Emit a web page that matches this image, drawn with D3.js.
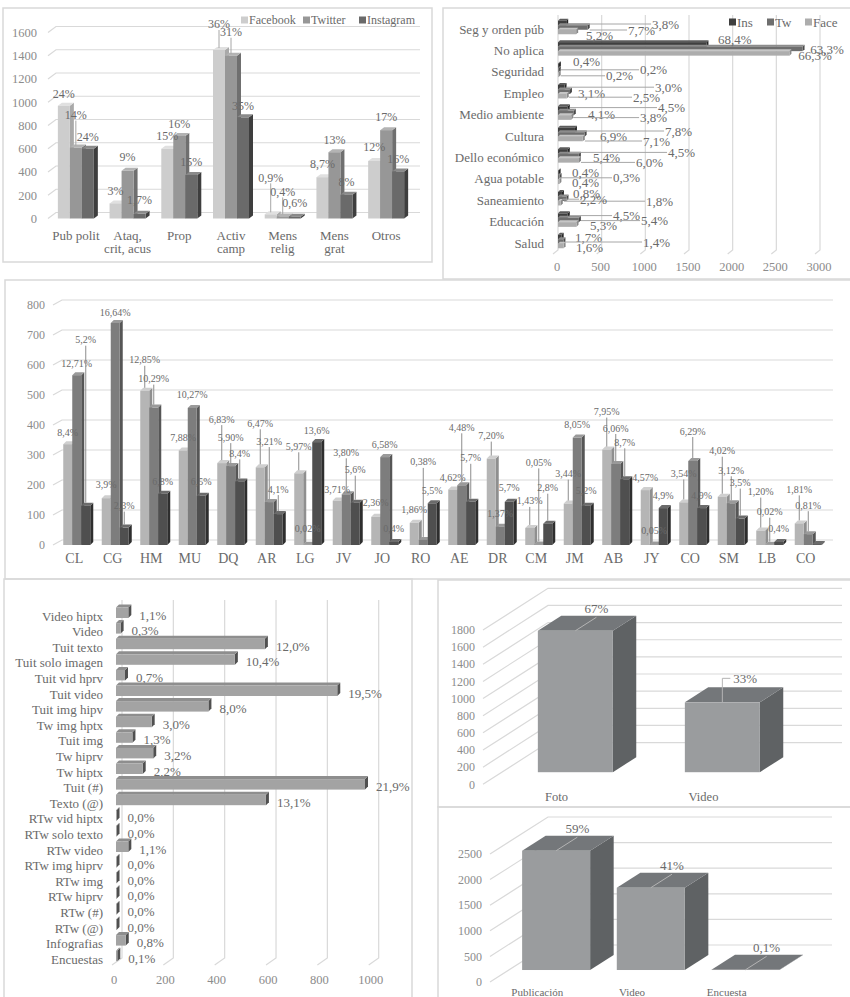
<!DOCTYPE html>
<html><head><meta charset="utf-8">
<script src="https://cdn.jsdelivr.net/npm/d3@7"></script>
<style>
html,body{margin:0;padding:0;background:#fff;}
svg{display:block;}
</style></head><body>
<svg id="chart" width="850" height="997"></svg>
<script>
// ================= DATA =================
// Panel 1 (top-left): content type by network
const p1Categories = ["Pub polit", "Ataq,\ncrit, acus", "Prop", "Activ\ncamp", "Mens\nrelig", "Mens\ngrat", "Otros"];
const p1Series = ["Facebook", "Twitter", "Instagram"];
const p1Facebook = [970, 130, 600, 1450, 36, 355, 495];
const p1Twitter = [610, 410, 710, 1400, 18, 570, 760];
const p1Instagram = [600, 40, 375, 870, 15, 205, 405];
const p1PctFacebook = ["24%", "3%", "15%", "36%", "0,9%", "8,7%", "12%"];
const p1PctTwitter = ["14%", "9%", "16%", "31%", "0,4%", "13%", "17%"];
const p1PctInstagram = ["24%", "1,7%", "15%", "35%", "0,6%", "8%", "16%"];
const p1Ticks = [0, 200, 400, 600, 800, 1000, 1200, 1400, 1600];

// Panel 2 (top-right): topics
const p2Categories = ["Seg y orden púb", "No aplica", "Seguridad", "Empleo", "Medio ambiente", "Cultura", "Dello económico", "Agua potable", "Saneamiento", "Educación", "Salud"];
const p2Series = ["Ins", "Tw", "Face"];
const p2Ins = [94, 1700, 10, 75, 112, 194, 112, 7, 45, 112, 42];
const p2Tw = [340, 2800, 9, 137, 181, 305, 239, 18, 97, 239, 62];
const p2Face = [208, 2650, 8, 100, 152, 284, 240, 16, 32, 212, 64];
const p2PctIns = ["3,8%", "68,4%", "0,4%", "3,0%", "4,5%", "7,8%", "4,5%", "0,3%", "1,8%", "4,5%", "1,7%"];
const p2PctTw = ["7,7%", "63,3%", "0,2%", "3,1%", "4,1%", "6,9%", "5,4%", "0,4%", "0,8%", "5,4%", "1,4%"];
const p2PctFace = ["5,2%", "66,3%", "0,2%", "2,5%", "3,8%", "7,1%", "6,0%", "0,4%", "2,2%", "5,3%", "1,6%"];
const p2Ticks = [0, 500, 1000, 1500, 2000, 2500, 3000];

// Panel 3 (middle): candidates
const mCategories = ["CL", "CG", "HM", "MU", "DQ", "AR", "LG", "JV", "JO", "RO", "AE", "DR", "CM", "JM", "AB", "JY", "CO", "SM", "LB", "CO"];
const mFacebook = [336, 156, 514, 315, 273, 259, 239, 148, 94, 74, 185, 288, 57, 138, 318, 183, 142, 161, 48, 72];
const mTwitter = [566, 740, 458, 457, 263, 143, 1, 169, 293, 17, 199, 61, 2, 358, 270, 2, 280, 139, 1, 36];
const mInstagram = [131, 58, 171, 164, 212, 103, 343, 141, 10, 139, 144, 144, 71, 131, 219, 123, 123, 88, 10, 3];
const mPctFacebook = ["8,4%", "3,9%", "12,85%", "7,88%", "6,83%", "6,47%", "5,97%", "3,71%", "2,36%", "1,86%", "4,62%", "7,20%", "1,43%", "3,44%", "7,95%", "4,57%", "3,54%", "4,02%", "1,20%", "1,81%"];
const mPctTwitter = ["12,71%", "16,64%", "10,29%", "10,27%", "5,90%", "3,21%", "0,02%", "3,80%", "6,58%", "0,38%", "4,48%", "1,37%", "0,05%", "8,05%", "6,06%", "0,05%", "6,29%", "3,12%", "0,02%", "0,81%"];
const mPctInstagram = ["5,2%", "2,3%", "6,8%", "6,5%", "8,4%", "4,1%", "13,6%", "5,6%", "0,4%", "5,5%", "5,7%", "5,7%", "2,8%", "5,2%", "8,7%", "4,9%", "4,9%", "3,5%", "0,4%", ""];
const mTicks = [0, 100, 200, 300, 400, 500, 600, 700, 800];

// Panel 4 (bottom-left): tweet formats
const blCategories = ["Video hiptx", "Video", "Tuit texto", "Tuit solo imagen", "Tuit vid hprv", "Tuit video", "Tuit img hipv", "Tw img hptx", "Tuit img", "Tw hiprv", "Tw hiptx", "Tuit (#)", "Texto (@)", "RTw vid hiptx", "RTw solo texto", "RTw video", "RTw img hiprv", "RTw img", "RTw hiprv", "RTw (#)", "RTw (@)", "Infografias", "Encuestas"];
const blValues = [48, 18, 580, 463, 35, 862, 360, 139, 64, 145, 104, 970, 584, 2, 2, 48, 2, 2, 2, 2, 2, 38, 5];
const blPct = ["1,1%", "0,3%", "12,0%", "10,4%", "0,7%", "19,5%", "8,0%", "3,0%", "1,3%", "3,2%", "2,2%", "21,9%", "13,1%", "0,0%", "0,0%", "1,1%", "0,0%", "0,0%", "0,0%", "0,0%", "0,0%", "0,8%", "0,1%"];
const blTicks = [0, 200, 400, 600, 800, 1000];

// Panel 5 (bottom-right, upper): Instagram formats
const aCategories = ["Foto", "Video"];
const aValues = [1650, 815];
const aPct = ["67%", "33%"];
const aTicks = [0, 200, 400, 600, 800, 1000, 1200, 1400, 1600, 1800];

// Panel 6 (bottom-right, lower): Facebook formats
const bCategories = ["Publicación", "Video", "Encuesta"];
const bValues = [2330, 1607, 4];
const bPct = ["59%", "41%", "0,1%"];
const bTicks = [0, 500, 1000, 1500, 2000, 2500];

// ============ LABEL PLACEMENT (layout only) ============
const p1LiftFacebook = [12, 13, 13, 26, 37, 13, 14];
const p1LiftTwitter = [33, 14, 12, 24, 25, 12, 13];
const p1LiftInstagram = [12, 14, 13, 12, 14, 13, 13];

const p2LabelAtIns = [1077, 1833, 172, 1111, 1145, 1226, 1260, 630, 1008, 630, 195];
const p2LabelDyIns = [-5, -11, -10, -6, -7, -5, -5, -1, 1, -6, -6];
const p2LabelAtTw = [802, 2887, 940, 229, 344, 481, 401, 160, 172, 951, 974];
const p2LabelDyTw = [1, -1, -2, 0, 0, 0, 0, -6, -7, -1, -1];
const p2LabelAtFace = [320, 2750, 550, 859, 940, 974, 893, 160, 252, 367, 206];
const p2LabelDyFace = [6, 5, 4, 4, 3, 5, 5, 4, -1, 4, 4];

const mLiftFacebook = [12, 14, 31, 13, 44, 44, 27, 11, 14, 13, 12, 23, 27, 30, 38, 13, 29, 46, 39, 34];
const mLiftTwitter = [12, 11, 29, 13, 29, 61, 16, 42, 13, 78, 58, 13, 82, 13, 36, 14, 30, 33, 33, 29];
const mLiftInstagram = [166, 22, 12, 14, 28, 25, 12, 33, 14, 13, 44, 14, 36, 15, 37, 13, 13, 36, 14, 0];

// ================= DRAWING =================
const svg = d3.select('#chart');
const FONT = '"Liberation Serif","Times New Roman",serif';
const TXT = '#6a6a6a';
const TICK = '#8c8c8c';
const GRID = '#d9d9d9';
const LEAD = '#a6a6a6';

function txt(g, x, y, s, size, anchor, fill) {
  return g.append('text').attr('x', x).attr('y', y).attr('dy', '0.35em')
    .attr('text-anchor', anchor || 'middle').attr('font-size', size)
    .attr('fill', fill || TXT).attr('font-family', FONT).text(s);
}
function vbar(g, x, w, yTop, yBase, dx, dy, c) {
  g.append('path').attr('d', `M${x+w},${yTop}L${x+w+dx},${yTop-dy}L${x+w+dx},${yBase-dy}L${x+w},${yBase}Z`).attr('fill', c.side);
  g.append('path').attr('d', `M${x},${yTop}L${x+dx},${yTop-dy}L${x+w+dx},${yTop-dy}L${x+w},${yTop}Z`).attr('fill', c.top);
  g.append('rect').attr('x', x).attr('y', yTop).attr('width', w).attr('height', Math.max(0, yBase - yTop)).attr('fill', c.front);
}
function hbar(g, x0, x1, y, h, dx, dy, c) {
  g.append('path').attr('d', `M${x1},${y}L${x1+dx},${y-dy}L${x1+dx},${y+h-dy}L${x1},${y+h}Z`).attr('fill', c.side);
  g.append('path').attr('d', `M${x0},${y}L${x0+dx},${y-dy}L${x1+dx},${y-dy}L${x1},${y}Z`).attr('fill', c.top);
  g.append('rect').attr('x', x0).attr('y', y).attr('width', Math.max(0, x1 - x0)).attr('height', h).attr('fill', c.front);
}

// ---------- panel borders ----------
const borders = svg.append('g').attr('fill', 'none').attr('stroke', '#d9d9d9').attr('stroke-width', 1.5);
borders.append('rect').attr('x', 3).attr('y', 8).attr('width', 429).attr('height', 254);
borders.append('rect').attr('x', 443).attr('y', 8).attr('width', 412).attr('height', 271);
borders.append('rect').attr('x', 5).attr('y', 280).attr('width', 850).attr('height', 299);
borders.append('rect').attr('x', 4).attr('y', 579).attr('width', 408).attr('height', 425);
borders.append('rect').attr('x', 438).attr('y', 580).attr('width', 420).attr('height', 227);
borders.append('rect').attr('x', 438).attr('y', 807).attr('width', 420).attr('height', 200);

// ---------- Panel 1 ----------
(function () {
  const g = svg.append('g');
  const x = d3.scaleBand().domain(d3.range(p1Categories.length)).range([50, 412]);
  const xs = d3.scaleBand().domain(p1Series).range([0, 36]);
  const y = d3.scaleLinear().domain([0, 1600]).range([218.5, 32.5]);
  const off = (x.bandwidth() - 36) / 2;
  p1Ticks.forEach(t => {
    const yy = y(t);
    g.append('path').attr('d', `M48,${yy}L56,${yy - 6}L420,${yy - 6}`).attr('fill', 'none').attr('stroke', GRID).attr('stroke-width', 1.2);
    txt(g, 37, yy, t, 12.5, 'end', TICK);
  });
  const series = [
    { name: 'Facebook', vals: p1Facebook, pct: p1PctFacebook, lift: p1LiftFacebook, c: { front: '#cdcdcd', top: '#e0e0e0', side: '#a9a9a9' } },
    { name: 'Twitter', vals: p1Twitter, pct: p1PctTwitter, lift: p1LiftTwitter, c: { front: '#979797', top: '#b3b3b3', side: '#6f6f6f' } },
    { name: 'Instagram', vals: p1Instagram, pct: p1PctInstagram, lift: p1LiftInstagram, c: { front: '#6a6a6a', top: '#8a8a8a', side: '#3e3e3e' } }
  ];
  const bw = xs.bandwidth();
  p1Categories.forEach((cat, i) => {
    series.forEach(s => {
      const bx = x(i) + off + xs(s.name);
      vbar(g, bx, bw, y(s.vals[i]), y(0), 4, 3, s.c);
    });
  });
  const lab = svg.append('g');
  p1Categories.forEach((cat, i) => {
    series.forEach(s => {
      const cx = x(i) + off + xs(s.name) + bw / 2;
      const top = y(s.vals[i]);
      const ly = top - s.lift[i];
      if (s.lift[i] > 20) {
        lab.append('line').attr('x1', cx).attr('x2', cx).attr('y1', ly + 6).attr('y2', top - 2).attr('stroke', LEAD).attr('stroke-width', 1);
      }
      txt(lab, cx, ly, s.pct[i], 12, 'middle', TXT);
    });
    const lines = cat.split('\n');
    lines.forEach((ln, k) => txt(g, x(i) + x.bandwidth() / 2, 235 + k * 13, ln, 13, 'middle', TXT));
  });
  // legend
  const legX = [241, 303, 359];
  series.forEach((s, k) => {
    g.append('rect').attr('x', legX[k]).attr('y', 16.5).attr('width', 7).attr('height', 7).attr('fill', s.c.front);
    txt(g, legX[k] + 8, 20, s.name, 12, 'start', TXT);
  });
})();

// ---------- Panel 2 ----------
(function () {
  const g = svg.append('g');
  const x = d3.scaleLinear().domain([0, 3000]).range([558, 820]);
  const yb = d3.scaleBand().domain(d3.range(p2Categories.length)).range([18.3, 253.7]);
  const ys = d3.scaleBand().domain(p2Series).range([-8.25, 5.25]);
  p2Ticks.forEach(t => {
    const xx = x(t);
    g.append('path').attr('d', `M${xx},15L${xx},250L${xx - 5},254`).attr('fill', 'none').attr('stroke', GRID).attr('stroke-width', 1.2);
    txt(g, xx - 1, 267, t, 12.5, 'middle', TICK);
  });
  const series = [
    { name: 'Ins', vals: p2Ins, pct: p2PctIns, at: p2LabelAtIns, dy: p2LabelDyIns, c: { front: '#3f3f3f', top: '#5c5c5c', side: '#262626' } },
    { name: 'Tw', vals: p2Tw, pct: p2PctTw, at: p2LabelAtTw, dy: p2LabelDyTw, c: { front: '#6e6e6e', top: '#8c8c8c', side: '#4a4a4a' } },
    { name: 'Face', vals: p2Face, pct: p2PctFace, at: p2LabelAtFace, dy: p2LabelDyFace, c: { front: '#adadad', top: '#c6c6c6', side: '#8a8a8a' } }
  ];
  const h = ys.bandwidth();
  p2Categories.forEach((cat, i) => {
    const c = yb(i) + yb.bandwidth() / 2;
    series.forEach(s => {
      hbar(g, x(0), x(s.vals[i]), c + ys(s.name), h, 2, 2, s.c);
    });
    txt(g, 544, c, cat, 13, 'end', TXT);
  });
  const lab = svg.append('g');
  p2Categories.forEach((cat, i) => {
    const c = yb(i) + yb.bandwidth() / 2;
    series.forEach(s => {
      const lx = x(s.at[i]);
      const ly = c + s.dy[i];
      const end = x(s.vals[i]) + 2;
      if (lx - end > 16) {
        lab.append('line').attr('x1', end).attr('x2', lx - 1).attr('y1', ly).attr('y2', ly).attr('stroke', LEAD).attr('stroke-width', 1);
      }
      txt(lab, lx, ly, s.pct[i], 13, 'start', TXT);
    });
  });
  const legX = [729, 767, 805];
  series.forEach((s, k) => {
    g.append('rect').attr('x', legX[k]).attr('y', 18.5).attr('width', 7).attr('height', 7).attr('fill', s.c.front);
    txt(g, legX[k] + 8, 22, s.name, 13, 'start', TXT);
  });
})();

// ---------- Panel 3 (middle) ----------
(function () {
  const g = svg.append('g');
  const x = d3.scaleBand().domain(d3.range(mCategories.length)).range([55, 825]);
  const xs = d3.scaleBand().domain(['F', 'T', 'I']).range([-11, 16]);
  const y = d3.scaleLinear().domain([0, 800]).range([545, 305]);
  mTicks.forEach(t => {
    const yy = y(t);
    g.append('path').attr('d', `M53,${yy}L62,${yy - 5}L833,${yy - 5}`).attr('fill', 'none').attr('stroke', GRID).attr('stroke-width', 1.2);
    txt(g, 45, yy, t, 12, 'end', TICK);
  });
  const series = [
    { name: 'F', vals: mFacebook, pct: mPctFacebook, lift: mLiftFacebook, c: { front: '#b5b5b5', top: '#cfcfcf', side: '#8f8f8f' } },
    { name: 'T', vals: mTwitter, pct: mPctTwitter, lift: mLiftTwitter, c: { front: '#7d7d7d', top: '#9a9a9a', side: '#565656' } },
    { name: 'I', vals: mInstagram, pct: mPctInstagram, lift: mLiftInstagram, c: { front: '#4f4f4f', top: '#6b6b6b', side: '#2e2e2e' } }
  ];
  const bw = xs.bandwidth();
  mCategories.forEach((cat, i) => {
    const c = x(i) + x.bandwidth() / 2;
    series.forEach(s => vbar(g, c + xs(s.name), bw, y(s.vals[i]), y(0), 3, 3, s.c));
    txt(g, c, 558, cat, 14, 'middle', TXT);
  });
  const lab = svg.append('g');
  mCategories.forEach((cat, i) => {
    const c = x(i) + x.bandwidth() / 2;
    series.forEach(s => {
      if (!s.pct[i]) return;
      const cx = c + xs(s.name) + bw / 2;
      const top = y(s.vals[i]);
      const ly = top - s.lift[i];
      if (s.lift[i] > 20) {
        lab.append('line').attr('x1', cx).attr('x2', cx).attr('y1', ly + 6).attr('y2', top - 3).attr('stroke', '#8c8c8c').attr('stroke-width', 1);
      }
      txt(lab, cx, ly, s.pct[i], 10, 'middle', TXT);
    });
  });
})();

// ---------- Panel 4 (bottom-left) ----------
(function () {
  const g = svg.append('g');
  const x = d3.scaleLinear().domain([0, 1000]).range([116, 372.7]);
  const yb = d3.scaleBand().domain(d3.range(blCategories.length)).range([607.2, 966]);
  blTicks.forEach(t => {
    const xx = x(t);
    g.append('path').attr('d', `M${xx + 6},600L${xx + 6},958L${xx - 4},965`).attr('fill', 'none').attr('stroke', GRID).attr('stroke-width', 1.2);
    txt(g, xx - 2, 980, t, 12.5, 'middle', TICK);
  });
  const col = { front: '#a3a3a3', top: '#8e8e8e', side: '#505050' };
  blCategories.forEach((cat, i) => {
    const c = yb(i) + yb.bandwidth() / 2;
    hbar(g, x(0), x(blValues[i]), c - 7.5, 10.5, 3, 3, col);
    txt(g, 103, c + 1, cat, 13, 'end', TXT);
    txt(g, x(blValues[i]) + 11, c, blPct[i], 13, 'start', TXT);
  });
})();

// ---------- Panels 5 & 6 (deep 3D columns) ----------
function deepPanel(cfg) {
  const g = svg.append('g');
  const y = d3.scaleLinear().domain(cfg.domain).range(cfg.yRange);
  const x = d3.scaleBand().domain(cfg.cats).range(cfg.xRange);
  const [DX, DY] = cfg.depth;
  cfg.ticks.forEach(t => {
    const yy = y(t);
    g.append('path').attr('d', `M${cfg.xRange[0]},${yy}L${cfg.xRange[0] + DX},${yy - DY}L${cfg.backRight},${yy - DY}`)
      .attr('fill', 'none').attr('stroke', GRID).attr('stroke-width', 1.2);
    txt(g, cfg.xRange[0] - 8, yy, t, 12, 'end', TICK);
  });
  const col = { front: '#9a9c9e', top: '#74777a', side: '#5f6264' };
  const ddx = DX * (cfg.f1 - cfg.f0), ddy = DY * (cfg.f1 - cfg.f0);
  const lab = svg.append('g');
  cfg.cats.forEach((c, i) => {
    const bc = x(c) + x.bandwidth() / 2;
    const cx = bc + DX * cfg.f0;
    const yTop = y(cfg.vals[i]) - DY * cfg.f0;
    const yBase = y(0) - DY * cfg.f0;
    vbar(g, cx - cfg.bw / 2, cfg.bw, yTop, yBase, ddx, ddy, col);
    txt(g, bc, cfg.catY, c, cfg.catSize, 'middle', TXT);
    if (cfg.mode[i] === 'elbow') {
      lab.append('path').attr('d', `M${cx},${yTop}L${cx},${yTop - 24}L${cx + 8},${yTop - 24}`).attr('fill', 'none').attr('stroke', '#b4b4b4').attr('stroke-width', 1);
      txt(lab, cx + 11, yTop - 24, cfg.pct[i], 13, 'start', TXT);
    } else {
      lab.append('line').attr('x1', cx).attr('y1', yTop).attr('x2', cx + ddx * 0.9).attr('y2', yTop - ddy * 0.9).attr('stroke', '#b4b4b4').attr('stroke-width', 1);
      txt(lab, cx + ddx * 0.9, yTop - ddy - 7, cfg.pct[i], 13, 'middle', TXT);
    }
  });
}
deepPanel({
  cats: aCategories, vals: aValues, pct: aPct, ticks: aTicks, mode: ['depth', 'elbow'],
  domain: [0, 1800], yRange: [784.3, 630], xRange: [483, 777], backRight: 842,
  depth: [65, 41.7], f0: 0.29, f1: 0.65, bw: 75, catY: 797, catSize: 12.5
});
deepPanel({
  cats: bCategories, vals: bValues, pct: bPct, ticks: bTicks, mode: ['depth', 'depth', 'depth'],
  domain: [0, 2500], yRange: [982, 854], xRange: [490, 774], backRight: 832,
  depth: [58, 37], f0: 0.324, f1: 0.73, bw: 68, catY: 992, catSize: 11
});
</script>
</body></html>
